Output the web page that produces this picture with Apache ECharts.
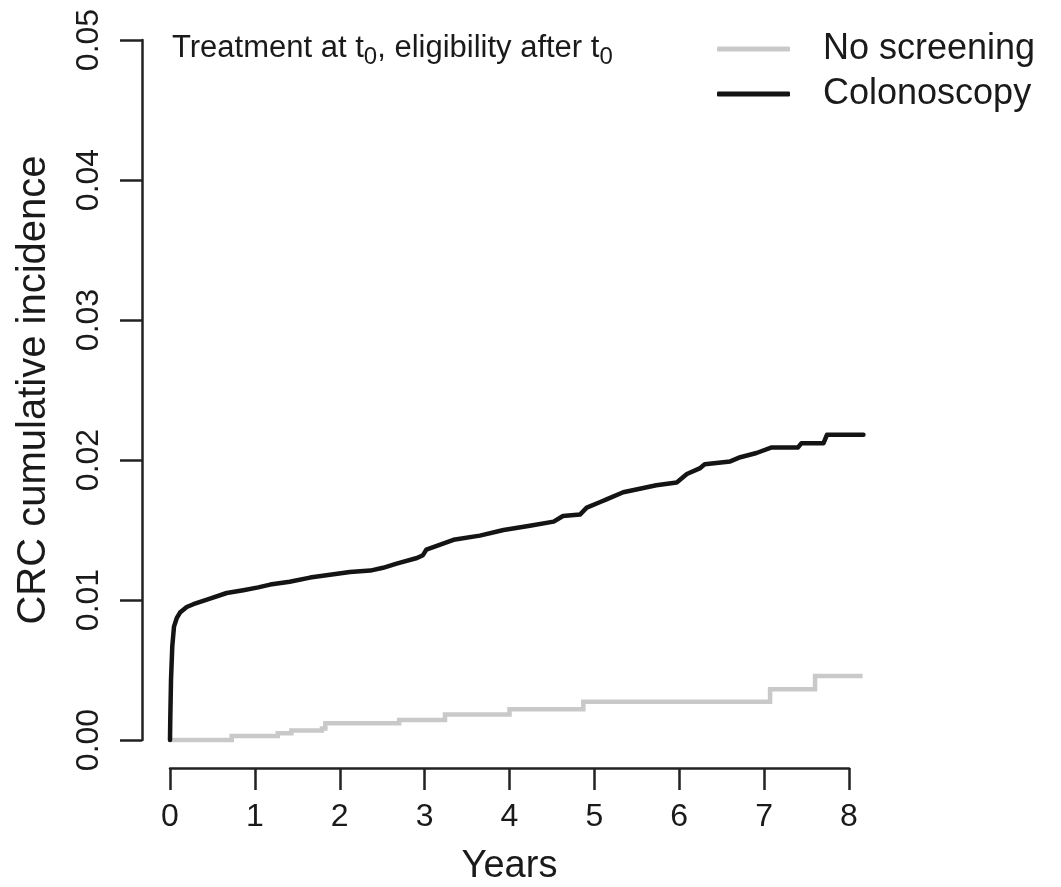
<!DOCTYPE html>
<html>
<head>
<meta charset="utf-8">
<script src="https://cdn.jsdelivr.net/npm/echarts@6/dist/echarts.min.js"></script>
<style>
html,body{margin:0;padding:0;background:#fff;}
#chart{width:1061px;height:887px;}
</style>
</head>
<body>
<div id="chart"></div>
<script>
// ---- data ----
var seriesNames = ['No screening', 'Colonoscopy'];
var xTicks = [0, 1, 2, 3, 4, 5, 6, 7, 8];
var yTicks = [0.00, 0.01, 0.02, 0.03, 0.04, 0.05];
var xDataMax = 8.2; // plotting region extends a little past the last tick (R style)

var noScreenYears  = [0, 0.727, 1.27, 1.43, 1.79, 1.83, 2.70, 3.24, 4.00, 4.87, 7.07, 7.60, 8.16];
var noScreenValues = [0, 0.00029, 0.00048, 0.00067, 0.00083, 0.00119, 0.00143, 0.00183, 0.0022, 0.00274, 0.00362, 0.00457, 0.00457];

var colonYears  = [0, 0.003, 0.012, 0.027, 0.047, 0.079, 0.118, 0.197, 0.275, 0.471, 0.668, 0.864, 1.04, 1.18, 1.41, 1.65, 1.885, 2.12, 2.36, 2.51, 2.67, 2.91, 2.98, 3.02, 3.34, 3.65, 3.93, 4.24, 4.52, 4.63, 4.83, 4.91, 5.07, 5.15, 5.34, 5.73, 5.97, 6.09, 6.24, 6.30, 6.60, 6.72, 6.91, 7.09, 7.40, 7.44, 7.70, 7.74, 8.17];
var colonValues = [0, 0.0014, 0.0043, 0.0067, 0.0081, 0.0087, 0.0091, 0.0095, 0.0097, 0.0101, 0.0105, 0.0107, 0.0109, 0.0111, 0.0113, 0.0116, 0.0118, 0.0120, 0.0121, 0.0123, 0.0126, 0.0130, 0.0132, 0.0136, 0.0143, 0.0146, 0.0150, 0.0153, 0.0156, 0.0160, 0.0161, 0.0166, 0.0170, 0.0172, 0.0177, 0.0182, 0.0184, 0.0190, 0.0194, 0.0197, 0.0199, 0.0202, 0.0205, 0.0209, 0.0209, 0.0212, 0.0212, 0.0218, 0.0218];

function pairs(xs, ys) { return xs.map(function (x, i) { return [x, ys[i]]; }); }

var FONT = 'Liberation Sans, Arial, Helvetica, sans-serif';
var TXT = '#1a1a1a';

// layout: grid 0 carries the visible axes 0..8, grid 1 (same scale, slightly wider) carries the curves
var W = 1061, gridLeft = 170, gridRight = 212;
var pxPerYear = (W - gridLeft - gridRight) / (xTicks[xTicks.length - 1] - xTicks[0]);
var dataRight = W - gridLeft - pxPerYear * (xDataMax - xTicks[0]);

var chart = echarts.init(document.getElementById('chart'), null, {renderer: 'canvas'});
chart.setOption({
  animation: false,
  backgroundColor: '#ffffff',
  textStyle: {fontFamily: FONT},
  title: {
    text: '{a|Treatment at t}{s|0}{a|, eligibility after t}{s|0}',
    left: 172, top: 33, padding: 0,
    textStyle: {
      fontWeight: 'normal',
      rich: {
        a: {fontFamily: FONT, fontSize: 31, fontWeight: 'normal', color: TXT, verticalAlign: 'top'},
        s: {fontFamily: FONT, fontSize: 24, fontWeight: 'normal', color: TXT, verticalAlign: 'top', padding: [12, 0, 0, 0]}
      }
    }
  },
  legend: {
    orient: 'vertical',
    left: 717, top: 31, padding: 0,
    itemWidth: 73, itemHeight: 5, itemGap: 9,
    icon: 'roundRect',
    data: seriesNames,
    textStyle: {fontFamily: FONT, fontSize: 36, color: TXT, padding: [0, 0, 0, 28]}
  },
  grid: [
    {left: gridLeft, right: gridRight, top: 40, bottom: 147, containLabel: false, outerBoundsMode: 'none'},
    {left: gridLeft, right: dataRight, top: 40, bottom: 147, containLabel: false, outerBoundsMode: 'none'}
  ],
  xAxis: [{
    gridIndex: 0,
    type: 'value', min: xTicks[0], max: xTicks[xTicks.length - 1], interval: 1,
    offset: 28,
    name: 'Years', nameLocation: 'middle', nameGap: 80,
    nameTextStyle: {fontFamily: FONT, fontSize: 38, color: TXT},
    axisLine: {show: true, onZero: false, lineStyle: {color: '#222', width: 2.5}},
    axisTick: {show: true, length: 22, lineStyle: {color: '#222', width: 2.5}},
    axisLabel: {fontFamily: FONT, fontSize: 32, color: TXT, margin: 33,
      formatter: function (v) { return String(v); }},
    splitLine: {show: false}
  }, {
    gridIndex: 1,
    type: 'value', min: xTicks[0], max: xDataMax, show: false,
    axisLine: {show: false, onZero: false}, axisTick: {show: false}, axisLabel: {show: false}, splitLine: {show: false}
  }],
  yAxis: [{
    gridIndex: 0,
    type: 'value', min: yTicks[0], max: yTicks[yTicks.length - 1], interval: 0.01,
    offset: 28,
    name: 'CRC cumulative incidence', nameLocation: 'middle', nameGap: 88,
    nameTextStyle: {fontFamily: FONT, fontSize: 40, color: TXT},
    axisLine: {show: true, onZero: false, lineStyle: {color: '#222', width: 2.5}},
    axisTick: {show: true, length: 22, lineStyle: {color: '#222', width: 2.5}},
    axisLabel: {fontFamily: FONT, fontSize: 32, color: TXT, margin: 37, rotate: 90,
      formatter: function (v) { return v.toFixed(2); }},
    splitLine: {show: false}
  }, {
    gridIndex: 1,
    type: 'value', min: yTicks[0], max: yTicks[yTicks.length - 1], show: false,
    axisLine: {show: false, onZero: false}, axisTick: {show: false}, axisLabel: {show: false}, splitLine: {show: false}
  }],
  series: [
    {
      name: seriesNames[0], type: 'line', step: 'end',
      xAxisIndex: 1, yAxisIndex: 1,
      data: pairs(noScreenYears, noScreenValues),
      showSymbol: false, symbol: 'none', clip: false,
      color: '#c8c9c8',
      lineStyle: {color: '#c8c9c8', width: 4.5, cap: 'butt', join: 'miter'},
      itemStyle: {color: '#c8c9c8'},
      z: 2
    },
    {
      name: seriesNames[1], type: 'line',
      xAxisIndex: 1, yAxisIndex: 1,
      data: pairs(colonYears, colonValues),
      showSymbol: false, symbol: 'none', clip: false,
      color: '#141414',
      lineStyle: {color: '#141414', width: 4.5, cap: 'round', join: 'round'},
      itemStyle: {color: '#141414'},
      z: 3
    }
  ]
});
</script>
</body>
</html>
